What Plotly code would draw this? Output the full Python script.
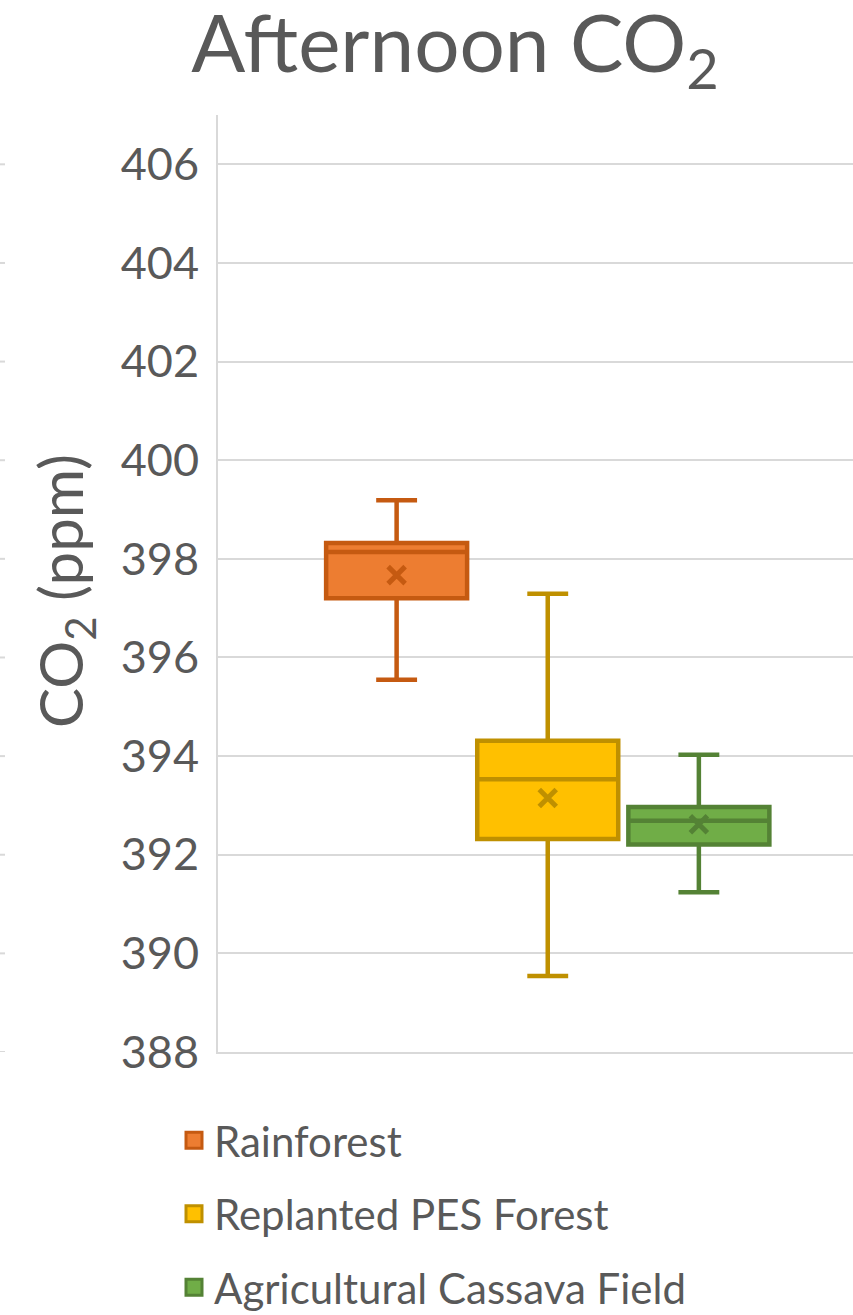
import plotly.graph_objects as go

# Afternoon CO2 summary statistics per land-use type (ppm)
sites = ["Rainforest", "Replanted PES Forest", "Agricultural Cassava Field"]
lower_whisker = [395.55, 389.54, 391.24]
q1_vals = [397.20, 392.32, 392.21]
median_vals = [398.14, 393.53, 392.69]
q3_vals = [398.32, 394.31, 392.97]
upper_whisker = [399.19, 397.29, 394.03]
mean_vals = [397.67, 393.15, 392.62]

fill_colors = ["#ED7D31", "#FFC000", "#70AD47"]
edge_colors = ["#C55A11", "#BF9000", "#548235"]

y_ticks = [388, 390, 392, 394, 396, 398, 400, 402, 404, 406]

FONT = "Lato"
TEXT = "#595959"
GRID = "#D9D9D9"

W, H = 853, 1315
ML, MR, MT, MB = 218, 0, 115, 263
plot_w = W - ML - MR

fig = go.Figure()

for i, name in enumerate(sites):
    fig.add_trace(go.Box(
        x=[i], q1=[q1_vals[i]], median=[median_vals[i]], q3=[q3_vals[i]],
        lowerfence=[lower_whisker[i]], upperfence=[upper_whisker[i]],
        boxpoints=False, width=0.933, whiskerwidth=0.29,
        fillcolor=fill_colors[i],
        line=dict(color=edge_colors[i], width=4.5),
        name=name, legendgroup=name, showlegend=False, hoverinfo="skip",
    ))
    # mean marker
    fig.add_trace(go.Scatter(
        x=[i], y=[mean_vals[i]], mode="markers",
        marker=dict(symbol="x-thin", size=17,
                    line=dict(color=edge_colors[i], width=5)),
        legendgroup=name, showlegend=False, hoverinfo="skip",
    ))
    # legend swatch
    fig.add_trace(go.Scatter(
        x=[None], y=[None], mode="markers", name=name, legendgroup=name,
        marker=dict(symbol="square", size=22, color=fill_colors[i],
                    line=dict(color=edge_colors[i], width=3)),
    ))

# short tick stubs along the far left edge
for v in y_ticks:
    fig.add_shape(type="line", xref="paper", yref="y",
                  x0=-ML / plot_w, x1=(-ML + 5) / plot_w, y0=v, y1=v,
                  line=dict(color=GRID, width=2), layer="below")

fig.add_annotation(
    text="CO<sub>2</sub> (ppm)", textangle=-90,
    xref="paper", yref="paper", x=(65 - ML) / plot_w, y=0.492,
    xanchor="center", yanchor="middle", showarrow=False,
    font=dict(family=FONT, size=60, color=TEXT),
)

fig.update_layout(
    width=W, height=H,
    margin=dict(l=ML, r=MR, t=MT, b=MB, autoexpand=False),
    paper_bgcolor="white", plot_bgcolor="white",
    font=dict(family=FONT, color=TEXT),
    title=dict(text="Afternoon CO<sub>2</sub>", xref="container", yref="container",
               x=455 / W, xanchor="center", y=1 - 16 / H, yanchor="top",
               font=dict(family=FONT, size=80, color=TEXT)),
    showlegend=True,
    legend=dict(x=(174 - ML) / plot_w, xanchor="left", y=-0.058, yanchor="top",
                font=dict(family=FONT, size=42, color=TEXT),
                itemsizing="trace", tracegroupgap=16, bgcolor="rgba(0,0,0,0)"),
    xaxis=dict(range=[-1.182, 3.02], showticklabels=False, showgrid=False,
               zeroline=False, showline=True, linecolor=GRID, linewidth=2,
               fixedrange=True),
    yaxis=dict(range=[388, 407], tickvals=y_ticks, showgrid=True,
               gridcolor=GRID, gridwidth=2, zeroline=False,
               showline=True, linecolor=GRID, linewidth=2,
               ticks="", ticklabelstandoff=8,
               tickfont=dict(family=FONT, size=45, color=TEXT)),
)

fig.write_html("out.html")
